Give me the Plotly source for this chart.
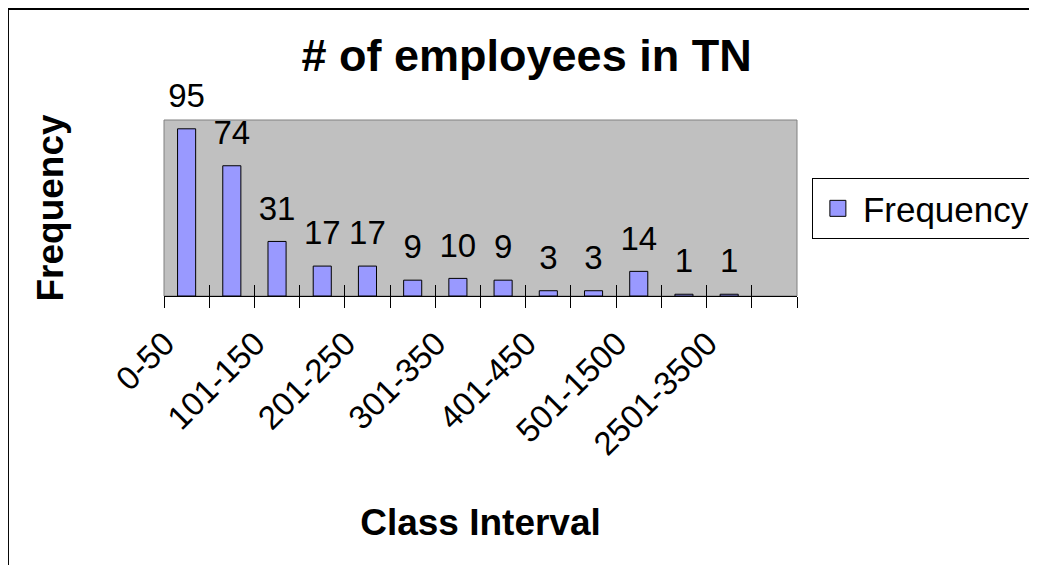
import plotly.graph_objects as go

categories = ['0-50', '51-100', '101-150', '151-200', '201-250', '251-300', '301-350',
              '351-400', '401-450', '451-500', '501-1500', '1501-2500', '2501-3500', 'More']
frequency = [95, 74, 31, 17, 17, 9, 10, 9, 3, 3, 14, 1, 1, None]

FONT = 'Liberation Sans, Arial, sans-serif'
BAR_COLOR = '#9999FF'

xs = list(range(len(categories)))
boundaries = [i - 0.5 for i in range(len(categories) + 1)]
axis_range = [boundaries[0], boundaries[-1]]

fig = go.Figure()

fig.add_trace(go.Bar(
    name='Frequency',
    x=xs,
    y=frequency,
    width=0.4,
    marker=dict(color=BAR_COLOR, line=dict(color='black', width=1)),
    showlegend=False,
    hoverinfo='skip',
))

# data labels, lifted above the bars by an invisible marker
fig.add_trace(go.Scatter(
    x=xs,
    y=frequency,
    text=[str(v) if v is not None else '' for v in frequency],
    mode='markers+text',
    textposition='top center',
    marker=dict(size=20, opacity=0),
    textfont=dict(family=FONT, size=33, color='black'),
    cliponaxis=False,
    showlegend=False,
    hoverinfo='skip',
))

# legend entry with a bigger swatch than the bar legend gives
fig.add_trace(go.Scatter(
    name='Frequency',
    x=[None],
    y=[None],
    mode='markers',
    marker=dict(symbol='square', size=16, color=BAR_COLOR, line=dict(color='black', width=1)),
    hoverinfo='skip',
))

fig.update_layout(
    width=1029,
    height=557,
    margin=dict(l=156, r=240, t=112, b=269, autoexpand=False),
    paper_bgcolor='white',
    plot_bgcolor='#C0C0C0',
    font=dict(family=FONT, color='black'),
    title=dict(
        text='<b># of employees in TN</b>',
        font=dict(size=45),
        x=0.504, xanchor='center',
        y=0.915, yanchor='middle',
    ),
    xaxis=dict(
        range=axis_range,
        tickmode='array',
        tickvals=[x - 0.48 for x in xs[::2]],
        ticktext=categories[::2],
        tickangle=-45,
        tickfont=dict(size=33),
        ticks='outside',
        ticklen=14,
        tickcolor='rgba(0,0,0,0)',
        showline=True,
        linecolor='black',
        linewidth=1,
        showgrid=False,
        zeroline=False,
        title=dict(text='<b>Class Interval</b>', font=dict(size=37), standoff=47),
    ),
    xaxis2=dict(
        range=axis_range, overlaying='x', anchor='y',
        tickmode='array', tickvals=boundaries,
        ticks='outside', ticklen=11, tickcolor='black',
        showticklabels=False, showgrid=False, zeroline=False,
    ),
    xaxis3=dict(
        range=axis_range, overlaying='x', anchor='y',
        tickmode='array', tickvals=boundaries,
        ticks='inside', ticklen=11, tickcolor='black',
        showticklabels=False, showgrid=False, zeroline=False,
    ),
    yaxis=dict(
        range=[0, 100],
        showticklabels=False,
        showgrid=False,
        zeroline=False,
        title=dict(text='<b>Frequency</b>', font=dict(size=37), standoff=88),
    ),
    showlegend=True,
    legend=dict(
        x=1.0235, xanchor='left',
        y=0.67, yanchor='top',
        bordercolor='black',
        borderwidth=1,
        bgcolor='white',
        font=dict(size=35),
        itemsizing='trace',
        itemwidth=40,
    ),
    shapes=[
        # plot area border
        dict(type='rect', xref='paper', yref='paper', x0=0, x1=1, y0=0, y1=1,
             line=dict(color='#808080', width=1), layer='below'),
        # chart frame
        dict(type='rect', xref='paper', yref='paper', x0=-0.2465, x1=1.4, y0=-1.7, y1=1.63,
             line=dict(color='black', width=2)),
    ],
)

# empty traces so the overlay tick axes get drawn
fig.add_trace(go.Scatter(x=[None], y=[None], xaxis='x2', showlegend=False, hoverinfo='skip'))
fig.add_trace(go.Scatter(x=[None], y=[None], xaxis='x3', showlegend=False, hoverinfo='skip'))

fig.write_html('out.html')
